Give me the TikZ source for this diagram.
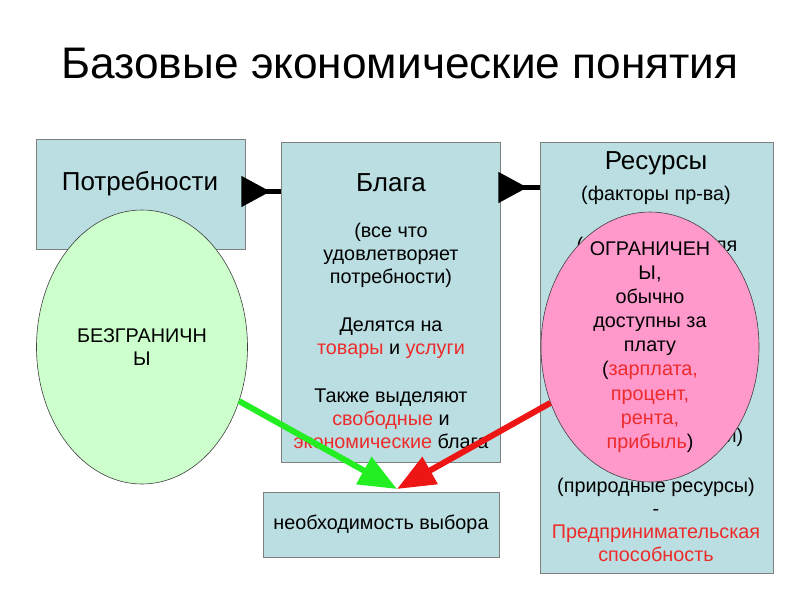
\documentclass[tikz,border=0pt]{standalone}
\usepackage{fontspec}
\setmainfont{Liberation Sans}
\usepackage{xcolor}
\usetikzlibrary{arrows.meta,positioning,shapes.geometric}
\definecolor{panelfill}{HTML}{BADEE1}
\definecolor{panelline}{HTML}{7F7F7F}
\definecolor{mint}{HTML}{CCFFCC}
\definecolor{rose}{HTML}{FF99CC}
\definecolor{accent}{HTML}{EE2B2B}
\definecolor{gogreen}{HTML}{22EE22}
\definecolor{stopred}{HTML}{EE1515}
\newcommand{\redword}[1]{\textcolor{accent}{#1}}

\begin{document}
\begin{tikzpicture}[x=1pt,y=-1pt,>=Latex,
 every node/.style={align=center,inner sep=0pt,font=\fontsize{19.8}{23}\selectfont}]
 \tikzset{
   panel/.style={draw=panelline,fill=panelfill,line width=0.8pt},
   head/.style={font=\fontsize{26}{30}\selectfont},
   bubble/.style={ellipse,draw=black!75,line width=0.6pt},
   link/.style={line width=4.5pt,{Triangle[reversed,length=29pt,width=30pt]}-},
   push/.style={line width=6pt,-{Triangle[length=38pt,width=30pt]}}
 }
 \useasboundingbox (0,0) rectangle (800,600);
 \node[font=\fontsize{44.2}{50}\selectfont,anchor=base] (title) at (400,78)
     {Базовые экономические понятия};
 % boxes
 \node[panel,minimum width=209pt,minimum height=110pt] (needs) at (140.5,194) {};
 \node[panel,minimum width=219pt,minimum height=320pt] (goods) at (390.5,302) {};
 \node[panel,minimum width=233pt,minimum height=431pt] (res) at (656.5,357.5) {};
 \node[panel,minimum width=236pt,minimum height=65pt] (choice) at (381,524.5)
     {необходимость выбора};
 % box texts
 \node[head,anchor=base] (needsT) at (140,190) {Потребности};
 \node[head,anchor=base] (goodsT) at (391,191) {Блага};
 \node (goodsB) at (391,336) {(все что\\удовлетворяет\\потребности)\\[25pt]
     Делятся на\\\redword{товары} и \redword{услуги}\\[25pt]
     Также выделяют\\\redword{свободные} и\\\redword{экономические} блага};
 \node[head,anchor=base] (resT) at (656,169) {Ресурсы};
 \node[anchor=base] (resF) at (656,200) {(факторы пр-ва)};
 \node[anchor=base] (resA) at (657,251) {(капиталы, земля};
 \node[anchor=base] (resB) at (658,442) {(капитал и деньги)};
 \node (resC) at (656,520) {(природные ресурсы)\\-\\
     \redword{Предпринимательская}\\\redword{способность}};
 % ellipses
 \node[bubble,fill=mint,minimum width=211pt,minimum height=274pt] (unlim) at (142,347)
     {БЕЗГРАНИЧН\\Ы};
 \node[bubble,fill=rose,minimum width=218pt,minimum height=270pt] (lim) at (650,347) {};
 \node[font=\fontsize{19.8}{24.1}\selectfont] (limT) at (650,347)
     {ОГРАНИЧЕН\\Ы,\\обычно\\доступны за\\плату\\(\redword{зарплата,}\\
      \redword{процент,}\\\redword{рента,}\\\redword{прибыль})};
 % connectors
 \coordinate (meet) at (397,489);
 \draw[push,gogreen] (unlim) -- (meet);
 \draw[push,stopred] (lim) -- (meet);
 \draw[link] ([shift={(-4pt,2.5pt)}]needs.east) -- ([yshift=2.5pt]goods.west |- needs.east);
 \draw[link] ([shift={(-2pt,114.5pt)}]goods.east) -- ([yshift=114.5pt]res.west |- goods.east);
\end{tikzpicture}
\end{document}
